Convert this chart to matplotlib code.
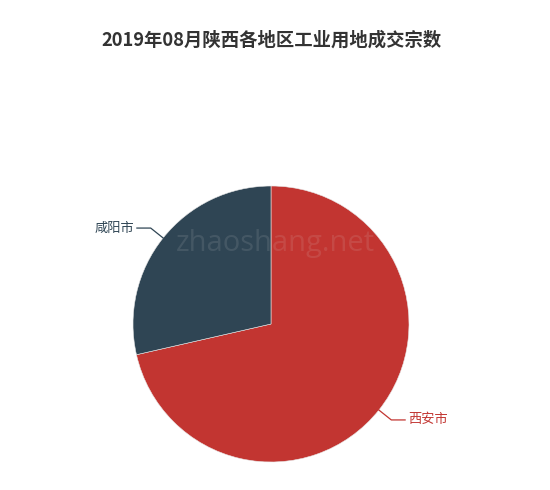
import numpy as np
import matplotlib.pyplot as plt

plt.rcParams['font.family'] = ['Noto Sans CJK SC', 'DejaVu Sans']

title = '2019年08月陕西各地区工业用地成交宗数'
regions = ['西安市', '咸阳市']
counts = [5, 2]
colors = ['#c23531', '#2f4554']

fig = plt.figure(figsize=(5.5, 4.9), dpi=100)
# pie centred at (271, 324) px, radius 138 px
r_px = 138
ax = fig.add_axes([(271 - r_px) / 550, (490 - 324 - r_px) / 490,
                   2 * r_px / 550, 2 * r_px / 490])
ax.axis('off')

wedges, _ = ax.pie(counts, colors=colors, startangle=90, counterclock=False,
                   radius=1, wedgeprops=dict(edgecolor='#e8e8e8', linewidth=0.4))
ax.set_xlim(-1, 1)
ax.set_ylim(-1, 1)

# labels with guide lines
for w, name, c in zip(wedges, regions, colors):
    mid = np.deg2rad((w.theta1 + w.theta2) / 2)
    x0, y0 = np.cos(mid), np.sin(mid)
    x1, y1 = x0 * 1.115, y0 * 1.115
    side = 1 if x0 > 0 else -1
    x2 = x1 + side * 0.1
    ax.plot([x0, x1, x2], [y0, y1, y1], color=c, lw=0.9, clip_on=False)
    ax.text(x2 + side * 0.02, y1, name, color=c, fontsize=9.5,
            ha='left' if side > 0 else 'right', va='center')

fig.text(271.5 / 550, 1 - 40 / 490, title, ha='center', va='center',
         fontsize=13.2, fontweight='bold', color='#333333')

fig.text(275 / 550, 1 - 243 / 490, 'zhaoshang.net', ha='center', va='center',
         fontsize=21, color='#dddddd', alpha=0.12, family='Open Sans')

fig.savefig('out.png', dpi=100)
